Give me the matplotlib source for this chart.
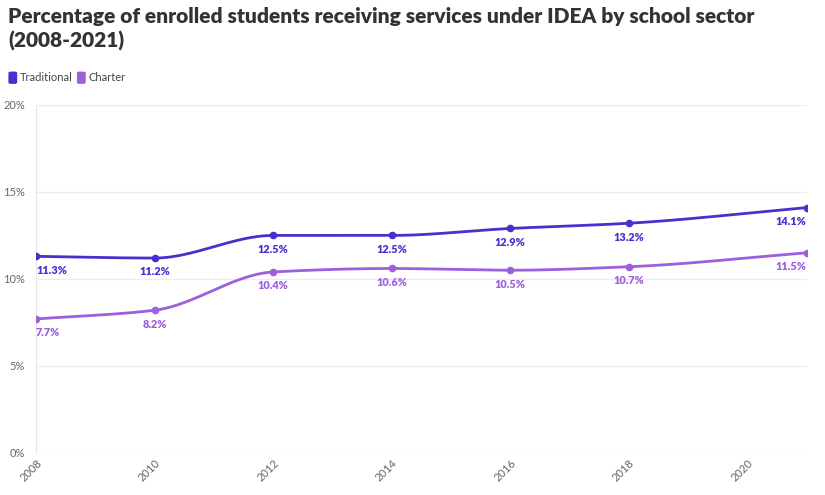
import numpy as np
import matplotlib.pyplot as plt
from matplotlib.patches import FancyBboxPatch

years = [2008, 2010, 2012, 2014, 2016, 2018, 2021]
traditional = [11.3, 11.2, 12.5, 12.5, 12.9, 13.2, 14.1]
charter = [7.7, 8.2, 10.4, 10.6, 10.5, 10.7, 11.5]
series_names = ["Traditional", "Charter"]
colors = ["#4a2fcf", "#9c5fdd"]
title = "Percentage of enrolled students receiving services under IDEA by school sector\n(2008-2021)"


def monotone_curve(x, y, n=60):
    # monotone cubic (Fritsch-Carlson), like d3 curveMonotoneX
    x = np.asarray(x, float)
    y = np.asarray(y, float)
    h = np.diff(x)
    d = np.diff(y) / h
    m = np.zeros_like(y)
    m[0], m[-1] = d[0], d[-1]
    for i in range(1, len(y) - 1):
        if d[i - 1] * d[i] <= 0:
            m[i] = 0
        else:
            w1 = 2 * h[i] + h[i - 1]
            w2 = h[i] + 2 * h[i - 1]
            m[i] = (w1 + w2) / (w1 / d[i - 1] + w2 / d[i])
    xs, ys = [], []
    for i in range(len(x) - 1):
        t = np.linspace(0, 1, n)
        h00 = 2 * t**3 - 3 * t**2 + 1
        h10 = t**3 - 2 * t**2 + t
        h01 = -2 * t**3 + 3 * t**2
        h11 = t**3 - t**2
        xs.append(x[i] + t * h[i])
        ys.append(h00 * y[i] + h10 * h[i] * m[i] + h01 * y[i + 1] + h11 * h[i] * m[i + 1])
    return np.concatenate(xs), np.concatenate(ys)


plt.rcParams['font.family'] = ['Lato', 'DejaVu Sans']

fig = plt.figure(figsize=(8.25, 4.95), dpi=100)
ax = fig.add_axes([0.0436, 0.085, 0.934, 0.703])

for vals, col in zip([traditional, charter], colors):
    cx, cy = monotone_curve(years, vals)
    ax.plot(cx, cy, color=col, lw=2.0, solid_capstyle='round', zorder=3)
    ax.scatter(years, vals, color=col, s=20, zorder=4)
    for i, (xv, yv) in enumerate(zip(years, vals)):
        ha = 'right' if i == len(years) - 1 else ('left' if i == 0 else 'center')
        ax.annotate(f"{yv:.1f}%", (xv, yv), xytext=(0, -6), textcoords='offset points',
                    ha=ha, va='top', fontsize=7.8, fontweight='heavy', color=col)

ax.set_xlim(2008, 2021)
ax.set_ylim(0, 20)
ax.set_yticks([0, 5, 10, 15, 20])
ax.set_yticklabels([f"{v}%" for v in [0, 5, 10, 15, 20]])
ax.set_xticks(range(2008, 2021, 2))
ax.grid(axis='y', color='#ececec', lw=0.8)
ax.tick_params(axis='both', length=0, labelsize=8, labelcolor='#666666')
ax.tick_params(axis='y', pad=8)
plt.setp(ax.get_xticklabels(), rotation=45, ha='right', rotation_mode='anchor')
for s in ['top', 'right', 'bottom']:
    ax.spines[s].set_visible(False)
ax.spines['left'].set_color('#e6e6e6')

fig.text(0.01, 0.985, title, ha='left', va='top', fontsize=15, fontweight='heavy',
         color='#333333', linespacing=1.3)

# legend
lx = 0.011
for name, col in zip(series_names, colors):
    fig.patches.append(FancyBboxPatch((lx, 0.832), 0.009, 0.022, boxstyle='round,pad=0,rounding_size=0.002',
                                      transform=fig.transFigure, color=col))
    t = fig.text(lx + 0.013, 0.843, name, ha='left', va='center', fontsize=8, color='#444444')
    fig.canvas.draw()
    bb = t.get_window_extent().transformed(fig.transFigure.inverted())
    lx = bb.x1 + 0.006

fig.savefig('out.png', dpi=100, facecolor='white')
